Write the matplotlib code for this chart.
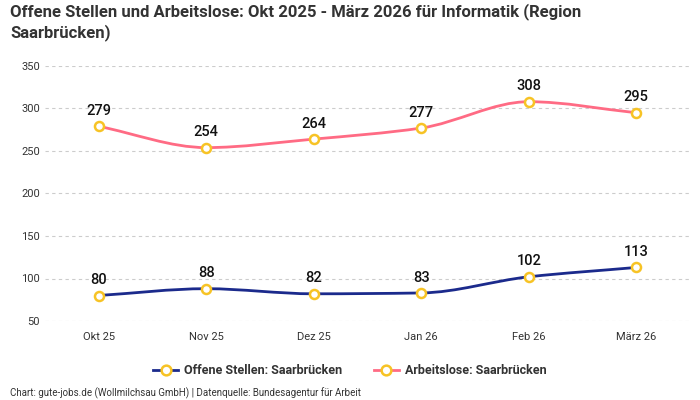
import numpy as np
import matplotlib.pyplot as plt
from matplotlib.path import Path
from matplotlib.patches import PathPatch
from matplotlib.lines import Line2D

plt.rcParams['font.family'] = ['Roboto', 'DejaVu Sans']

months = ['Okt 25', 'Nov 25', 'Dez 25', 'Jan 26', 'Feb 26', 'März 26']
offene = [80, 88, 82, 83, 102, 113]
arbeitslose = [279, 254, 264, 277, 308, 295]

blue = '#1b2a8c'
pink = '#ff6b84'
yellow = '#f7c325'


def monotone_path(x, y):
    # Fritsch-Carlson monotone cubic, built as bezier segments
    x = np.asarray(x, float)
    y = np.asarray(y, float)
    h = np.diff(x)
    d = np.diff(y) / h
    m = np.zeros_like(y)
    m[0], m[-1] = d[0], d[-1]
    for i in range(1, len(y) - 1):
        if d[i - 1] * d[i] <= 0:
            m[i] = 0
        else:
            m[i] = 2 / (1 / d[i - 1] + 1 / d[i])
    verts = [(x[0], y[0])]
    codes = [Path.MOVETO]
    for i in range(len(x) - 1):
        verts += [(x[i] + h[i] / 3, y[i] + m[i] * h[i] / 3),
                  (x[i + 1] - h[i] / 3, y[i + 1] - m[i + 1] * h[i] / 3),
                  (x[i + 1], y[i + 1])]
        codes += [Path.CURVE4] * 3
    return Path(verts, codes)


fig = plt.figure(figsize=(7, 4), dpi=100)
ax = fig.add_axes([45 / 700, 79 / 400, 645 / 700, 255 / 400])

xs = np.arange(len(months))
for vals, col in [(offene, blue), (arbeitslose, pink)]:
    ax.add_patch(PathPatch(monotone_path(xs, vals), facecolor='none',
                           edgecolor=col, lw=2, zorder=3))
    ax.plot(xs, vals, ls='none', marker='o', ms=6.5, mfc='white',
            mec=yellow, mew=1.8, zorder=4)
    for xi, v in zip(xs, vals):
        ax.annotate(str(v), (xi, v), xytext=(0, 6), textcoords='offset points',
                    ha='center', va='bottom', fontsize=10.5, fontweight='medium',
                    color='#111111')

ax.set_xlim(-0.5, 5.5)
ax.set_ylim(50, 350)
ax.set_yticks([50, 100, 150, 200, 250, 300, 350])
ax.set_xticks(xs)
ax.set_xticklabels(months)
ax.tick_params(length=0, labelsize=8, colors='#333333')
ax.tick_params(axis='x', pad=8)
ax.grid(axis='y', ls=(0, (3, 3)), color='#cccccc', lw=0.8)
for s in ax.spines.values():
    s.set_visible(False)

fig.text(10 / 700, 1 - 3 / 400, 'Offene Stellen und Arbeitslose: Okt 2025 - März 2026 für Informatik (Region\nSaarbrücken)',
         ha='left', va='top', fontsize=12, fontweight='bold', color='#333333', linespacing=1.3)

handles = [Line2D([], [], color=blue, lw=2, marker='o', ms=7, mfc='white', mec=yellow, mew=1.8),
           Line2D([], [], color=pink, lw=2, marker='o', ms=7, mfc='white', mec=yellow, mew=1.8)]
fig.legend(handles, ['Offene Stellen: Saarbrücken', 'Arbeitslose: Saarbrücken'],
           loc='center', bbox_to_anchor=(0.5, 1 - 371 / 400), ncol=2, frameon=False,
           prop={'size': 9, 'weight': 'bold'}, handlelength=2, columnspacing=2.5,
           handletextpad=0.5, labelcolor='#333333')

fig.text(10 / 700, 1 - 393 / 400, 'Chart: gute-jobs.de (Wollmilchsau GmbH) | Datenquelle: Bundesagentur für Arbeit',
         ha='left', va='center', fontsize=7, color='#333333')

fig.savefig('out.png', dpi=100)
